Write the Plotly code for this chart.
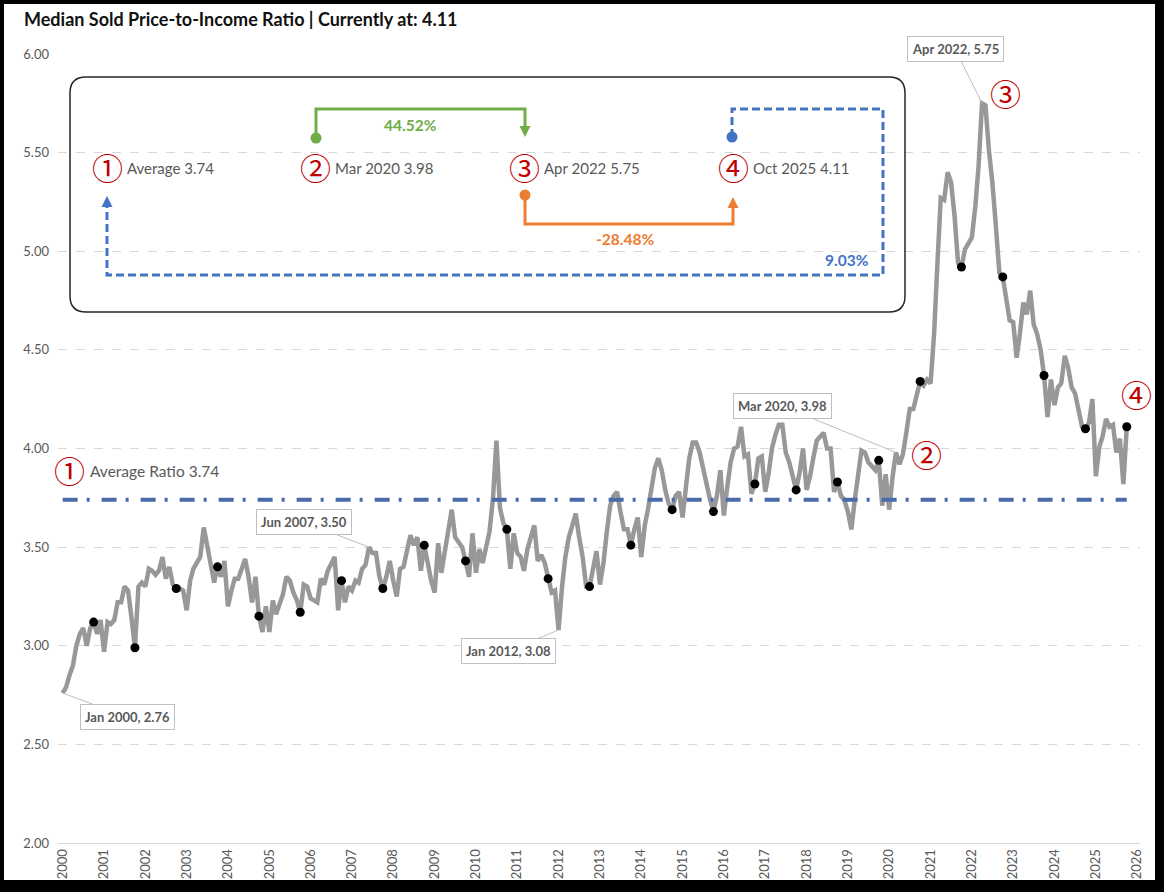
import pandas as pd
import plotly.graph_objects as go

W, H = 1164, 892
PLOT_L, PLOT_R, PLOT_T, PLOT_B = 58, 1140, 54, 843

FONT = "Lato"
CJK = "Noto Sans CJK JP"
GREY_TXT = "#595959"
RED = "#C00000"
GREEN = "#70AD47"
ORANGE = "#ED7D31"
BLUE = "#4472C4"

# monthly median sold price-to-income ratio, Jan 2000 .. Oct 2025
ratio_2000 = [2.76, 2.79, 2.85, 2.90, 3.00, 3.06, 3.09, 3.00, 3.09, 3.12, 3.06, 3.13]
ratio_2001 = [2.97, 3.12, 3.11, 3.13, 3.22, 3.22, 3.30, 3.28, 3.14, 2.99, 3.30, 3.32]
ratio_2002 = [3.30, 3.39, 3.38, 3.36, 3.38, 3.45, 3.34, 3.40, 3.31, 3.29, 3.29, 3.28]
ratio_2003 = [3.18, 3.33, 3.39, 3.42, 3.45, 3.60, 3.50, 3.40, 3.32, 3.40, 3.35, 3.43]
ratio_2004 = [3.20, 3.28, 3.34, 3.34, 3.39, 3.44, 3.35, 3.22, 3.35, 3.15, 3.07, 3.20]
ratio_2005 = [3.07, 3.23, 3.16, 3.22, 3.26, 3.35, 3.33, 3.27, 3.23, 3.17, 3.31, 3.30]
ratio_2006 = [3.24, 3.23, 3.22, 3.34, 3.31, 3.38, 3.41, 3.45, 3.18, 3.33, 3.22, 3.30]
ratio_2007 = [3.28, 3.33, 3.32, 3.39, 3.41, 3.50, 3.47, 3.47, 3.35, 3.29, 3.35, 3.43]
ratio_2008 = [3.33, 3.25, 3.39, 3.40, 3.48, 3.56, 3.51, 3.55, 3.38, 3.51, 3.42, 3.33]
ratio_2009 = [3.27, 3.52, 3.37, 3.49, 3.59, 3.69, 3.55, 3.52, 3.50, 3.43, 3.35, 3.57]
ratio_2010 = [3.37, 3.49, 3.42, 3.50, 3.58, 3.75, 4.04, 3.70, 3.62, 3.59, 3.39, 3.57]
ratio_2011 = [3.47, 3.45, 3.38, 3.49, 3.55, 3.61, 3.43, 3.46, 3.42, 3.34, 3.27, 3.28]
ratio_2012 = [3.08, 3.30, 3.45, 3.55, 3.62, 3.67, 3.55, 3.45, 3.30, 3.30, 3.39, 3.48]
ratio_2013 = [3.31, 3.42, 3.57, 3.71, 3.76, 3.78, 3.68, 3.59, 3.59, 3.51, 3.59, 3.65]
ratio_2014 = [3.45, 3.61, 3.69, 3.79, 3.90, 3.95, 3.89, 3.79, 3.72, 3.69, 3.76, 3.78]
ratio_2015 = [3.65, 3.81, 3.95, 4.03, 4.03, 3.98, 3.90, 3.80, 3.74, 3.68, 3.76, 3.89]
ratio_2016 = [3.66, 3.81, 3.93, 4.00, 4.01, 4.11, 3.96, 3.97, 3.77, 3.82, 3.95, 3.96]
ratio_2017 = [3.78, 3.88, 4.00, 4.07, 4.12, 4.12, 3.98, 3.93, 3.86, 3.79, 3.88, 4.00]
ratio_2018 = [3.79, 3.86, 3.95, 4.04, 4.06, 4.08, 4.00, 4.00, 3.78, 3.83, 3.76, 3.74]
ratio_2019 = [3.68, 3.59, 3.73, 3.87, 3.99, 3.98, 3.93, 3.91, 3.89, 3.94, 3.71, 3.87]
ratio_2020 = [3.69, 3.86, 3.98, 3.92, 3.97, 4.08, 4.20, 4.20, 4.27, 4.34, 4.32, 4.35]
ratio_2021 = [4.33, 4.58, 4.92, 5.27, 5.26, 5.40, 5.35, 5.18, 4.94, 4.92, 5.01, 5.04]
ratio_2022 = [5.07, 5.23, 5.43, 5.75, 5.74, 5.51, 5.35, 5.13, 4.89, 4.87, 4.77, 4.65]
ratio_2023 = [4.64, 4.46, 4.58, 4.74, 4.68, 4.80, 4.63, 4.58, 4.50, 4.37, 4.16, 4.35]
ratio_2024 = [4.22, 4.31, 4.33, 4.47, 4.41, 4.31, 4.28, 4.18, 4.11, 4.10, 4.13, 4.25]
ratio_2025 = [3.86, 4.01, 4.06, 4.15, 4.11, 4.12, 3.98, 4.05, 3.82, 4.11]

ratio_by_year = [
    ratio_2000, ratio_2001, ratio_2002, ratio_2003, ratio_2004, ratio_2005,
    ratio_2006, ratio_2007, ratio_2008, ratio_2009, ratio_2010, ratio_2011,
    ratio_2012, ratio_2013, ratio_2014, ratio_2015, ratio_2016, ratio_2017,
    ratio_2018, ratio_2019, ratio_2020, ratio_2021, ratio_2022, ratio_2023,
    ratio_2024, ratio_2025,
]
ratio = [v for yr in ratio_by_year for v in yr]
months = pd.date_range("2000-01-01", periods=len(ratio), freq="MS")
series = pd.Series(ratio, index=months)

avg_ratio = 3.74
callout_months = ["2000-01-01", "2007-06-01", "2012-01-01", "2020-03-01", "2022-04-01"]
# offset of each label box from its point, in pixels
callout_offsets = [(65, 24), (-65, -25), (-50, 21), (-113, -46), (-27, -54)]

# summary in the box
start_month, peak_month, last_month = "2020-03-01", "2022-04-01", "2025-10-01"
pct_rise = "44.52%"
pct_drop = "-28.48%"
pct_vs_avg = "9.03%"

octobers = series[series.index.month == 10]


def xp(px):
    return (px - PLOT_L) / (PLOT_R - PLOT_L)


def yp(py):
    return (PLOT_B - py) / (PLOT_B - PLOT_T)


def path(points):
    pts = [f"{xp(x):.5f},{yp(y):.5f}" for x, y in points]
    return "M " + " L ".join(pts)


def rounded_rect(x0, y0, x1, y1, r):
    rx = r / (PLOT_R - PLOT_L)
    ry = r / (PLOT_B - PLOT_T)
    a, b, c, d = xp(x0), yp(y0), xp(x1), yp(y1)
    return (
        f"M {a + rx},{b} L {c - rx},{b} Q {c},{b} {c},{b - ry} "
        f"L {c},{d + ry} Q {c},{d} {c - rx},{d} L {a + rx},{d} "
        f"Q {a},{d} {a},{d + ry} L {a},{b - ry} Q {a},{b} {a + rx},{b} Z"
    )


fig = go.Figure()
fig.add_trace(
    go.Scatter(
        x=months, y=ratio, mode="lines",
        line=dict(color="#989898", width=4.5),
        hoverinfo="x+y", showlegend=False,
    )
)
fig.add_trace(
    go.Scatter(
        x=[months[0], months[-1]], y=[avg_ratio, avg_ratio], mode="lines",
        line=dict(color="#4A6BA9", width=4, dash="15px,9px,3px,12px"),
        showlegend=False, hoverinfo="skip",
    )
)
fig.add_trace(
    go.Scatter(
        x=octobers.index, y=octobers.values, mode="markers",
        marker=dict(color="black", size=9),
        showlegend=False,
    )
)

annotations = []


def text(t, x, y, size=15, color=GREY_TXT, bold=False, xanchor="left", family=FONT):
    if bold:
        t = f"<b>{t}</b>"
    annotations.append(
        dict(
            text=t, x=xp(x), y=yp(y), xref="paper", yref="paper",
            xanchor=xanchor, yanchor="middle", showarrow=False,
            font=dict(size=size, color=color, family=family),
        )
    )


def circled(num, x, y):
    text("①②③④"[num - 1], x, y, size=31, color=RED, xanchor="center", family=CJK)


# title
text("Median Sold Price-to-Income Ratio | Currently at: %.2f" % series[last_month],
     22, 19, size=18, color="#111111", bold=True)

# box contents
fmt = lambda m: pd.Timestamp(m).strftime("%b %Y") + " %.2f" % series[m]
circled(1, 107, 166)
text("Average %.2f" % avg_ratio, 125, 168)
circled(2, 315, 166)
text(fmt(start_month), 333, 168)
circled(3, 524, 166)
text(fmt(peak_month), 542, 168)
circled(4, 733, 166)
text(fmt(last_month), 751, 168)
text(pct_rise, 410, 125, size=15.5, color=GREEN, bold=True, xanchor="center")
text(pct_drop, 625, 239, size=15.5, color=ORANGE, bold=True, xanchor="center")
text(pct_vs_avg, 871, 260, size=15.5, color=BLUE, bold=True, xanchor="right")

# average label on the chart
circled(1, 69, 469)
text("Average Ratio %.2f" % avg_ratio, 88, 471, size=15.5)

# circled markers on the chart
circled(2, 926, 453)
circled(3, 1005, 93)
circled(4, 1136, 393)

# callout labels
for m, (ax, ay) in zip(callout_months, callout_offsets):
    ts = pd.Timestamp(m)
    annotations.append(
        dict(
            x=ts, y=series[m], xref="x", yref="y",
            text="<b>%s, %.2f</b>" % (ts.strftime("%b %Y"), series[m]),
            showarrow=True, arrowhead=0, arrowwidth=1, arrowcolor="#BFBFBF",
            ax=ax, ay=ay, standoff=0,
            bgcolor="white", bordercolor="#BFBFBF", borderwidth=1, borderpad=4,
            font=dict(size=13, color=GREY_TXT, family=FONT),
        )
    )

shapes = []


def add_path(pts, color, dash=None, width=3):
    shapes.append(dict(type="path", xref="paper", yref="paper", path=path(pts),
                       line=dict(color=color, width=width, dash=dash)))


def arrow(x, y_tip, direction, color):
    # direction +1 pointing down, -1 pointing up
    base = y_tip - 11 * direction
    pts = [(x, y_tip), (x - 5.5, base), (x + 5.5, base)]
    shapes.append(dict(type="path", xref="paper", yref="paper",
                       path=path(pts) + " Z", fillcolor=color,
                       line=dict(color=color, width=0)))


def dot(x, y, color, r=5.5):
    shapes.append(dict(type="circle", xref="paper", yref="paper",
                       x0=xp(x - r), x1=xp(x + r), y0=yp(y + r), y1=yp(y - r),
                       fillcolor=color, line=dict(color=color, width=0)))


# summary box outline
shapes.append(dict(type="path", xref="paper", yref="paper",
                   path=rounded_rect(70, 77, 905, 312, 16),
                   line=dict(color="#262626", width=1.5)))

add_path([(316, 138), (316, 109), (525, 109), (525, 128)], GREEN)
arrow(525, 137, 1, GREEN)
dot(316, 138, GREEN)

add_path([(525, 195), (525, 224), (733, 224), (733, 206)], ORANGE)
arrow(733, 197, -1, ORANGE)
dot(525, 195, ORANGE)

add_path([(732, 137), (732, 109), (883, 109), (883, 275), (107, 275), (107, 205)],
         BLUE, dash="8px,4px")
arrow(107, 196, -1, BLUE)
dot(732, 137, BLUE)

# black frame around the picture
for x0, y0, x1, y1 in [(0, 0, W, 4), (0, 0, 4, H), (W - 9, 0, W, H), (0, H - 12, W, H)]:
    shapes.append(dict(type="rect", xref="paper", yref="paper",
                       x0=xp(x0), x1=xp(x1), y0=yp(y1), y1=yp(y0),
                       fillcolor="black", line=dict(width=0), layer="above"))

fig.update_layout(
    width=W, height=H,
    margin=dict(l=PLOT_L, r=W - PLOT_R, t=PLOT_T, b=H - PLOT_B, pad=0),
    paper_bgcolor="white", plot_bgcolor="white",
    font=dict(family=FONT, color=GREY_TXT, size=12),
    showlegend=False,
    annotations=annotations,
    shapes=shapes,
    xaxis=dict(
        type="date", range=["1999-11-21", "2026-01-26"],
        tick0="2000-01-01", dtick="M12", tickformat="%Y", tickangle=-90,
        showgrid=False, zeroline=False, showline=True, linecolor="#D9D9D9", linewidth=1,
        ticks="", tickfont=dict(size=13, color=GREY_TXT),
    ),
    yaxis=dict(
        range=[2, 6], dtick=0.5, tickformat=".2f",
        showgrid=True, gridcolor="#D9D9D9", griddash="dash", gridwidth=1,
        zeroline=False, showline=False, ticks="",
        ticklabelstandoff=8, tickfont=dict(size=13, color=GREY_TXT),
    ),
)

# page margin off so the figure sits at the window's top-left corner
fig.write_html(
    "out.html",
    config={"displayModeBar": False},
    post_script="document.body.style.margin='0';document.body.style.overflow='hidden';",
)
